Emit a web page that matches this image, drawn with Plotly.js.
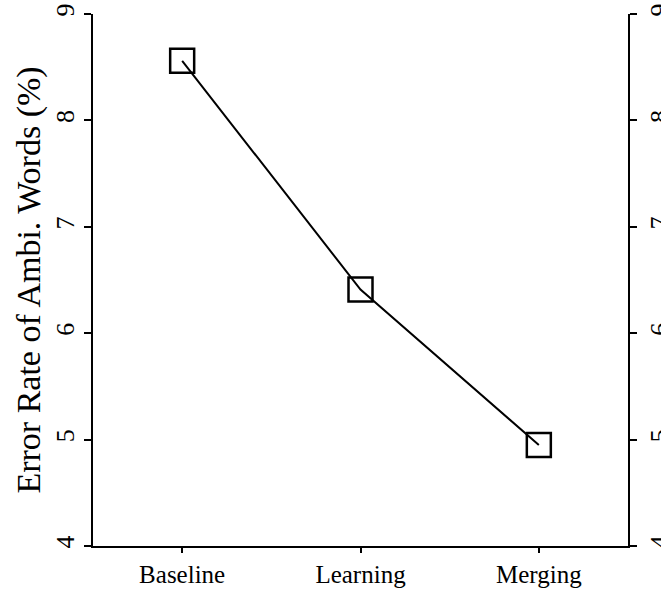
<!DOCTYPE html>
<html>
<head>
<meta charset="utf-8">
<script src="https://cdn.plot.ly/plotly-3.0.1.min.js"></script>
<style>html,body{margin:0;padding:0;background:#fff;}#chart{width:661px;height:590px;}</style>
</head>
<body>
<div id="chart"></div>
<script>
const categories = ["Baseline", "Learning", "Merging"];
const errorRate = [8.56, 6.41, 4.95];
const yTicks = [4, 5, 6, 7, 8, 9];

const font = {family: "Liberation Serif, Times New Roman, serif", color: "#000"};

const traces = [
  {
    x: categories, y: errorRate, type: "scatter", mode: "lines+markers",
    line: {color: "#000", width: 2},
    marker: {symbol: "square-open", size: 24, color: "#000", line: {width: 2.5, color: "#000"}},
    hoverinfo: "skip", showlegend: false, cliponaxis: false
  },
  {
    x: categories, y: errorRate, type: "scatter", mode: "markers", yaxis: "y2",
    marker: {opacity: 0}, hoverinfo: "skip", showlegend: false
  }
];

const yBase = {
  range: [4, 9], tickvals: yTicks, ticktext: yTicks.map(String),
  showgrid: false, zeroline: false, showline: true, linecolor: "#000", linewidth: 2,
  ticks: "outside", ticklen: 7, tickwidth: 2, tickcolor: "#000",
  tickangle: -90, tickfont: Object.assign({size: 26}, font)
};

const layout = {
  width: 661, height: 590,
  margin: {l: 93, r: 33, t: 14, b: 44},
  paper_bgcolor: "#fff", plot_bgcolor: "#fff",
  font: font,
  xaxis: {
    type: "category", range: [-0.5, 2.5],
    showgrid: false, zeroline: false, showline: true, linecolor: "#000", linewidth: 2,
    ticks: "outside", ticklen: 5, tickwidth: 2, tickcolor: "#000",
    tickfont: Object.assign({size: 25}, font)
  },
  yaxis: Object.assign({}, yBase, {
    title: {text: "Error Rate of Ambi. Words (%)", font: Object.assign({size: 34}, font), standoff: 0}
  }),
  yaxis2: Object.assign({}, yBase, {overlaying: "y", side: "right"})
};

Plotly.newPlot("chart", traces, layout, {displayModeBar: false, staticPlot: true});
</script>
</body>
</html>
